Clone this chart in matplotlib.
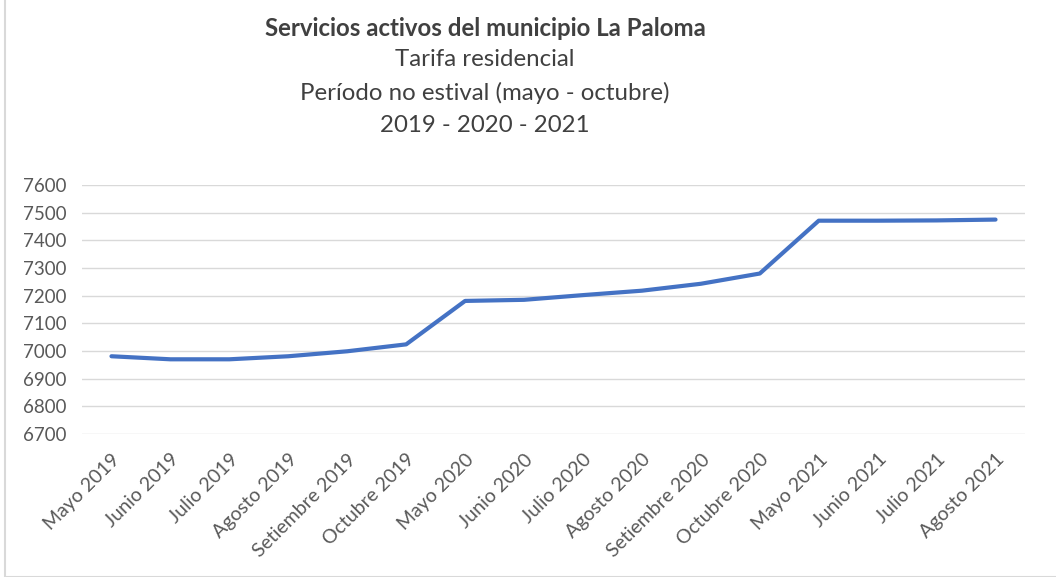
import matplotlib.pyplot as plt
from matplotlib.patches import Rectangle

meses = ["Mayo 2019", "Junio 2019", "Julio 2019", "Agosto 2019", "Setiembre 2019",
         "Octubre 2019", "Mayo 2020", "Junio 2020", "Julio 2020", "Agosto 2020",
         "Setiembre 2020", "Octubre 2020", "Mayo 2021", "Junio 2021", "Julio 2021",
         "Agosto 2021"]
servicios = [6981, 6970, 6970, 6981, 6999, 7024, 7181, 7185, 7202, 7218,
             7243, 7280, 7471, 7471, 7472, 7475]
y_ticks = [6700, 6800, 6900, 7000, 7100, 7200, 7300, 7400, 7500, 7600]

plt.rcParams['font.family'] = ['Lato', 'DejaVu Sans']

fig = plt.figure(figsize=(10.56, 5.77), dpi=100)
ax = fig.add_axes([82 / 1056, 1 - 434 / 577, (1025 - 82) / 1056, (434 - 185) / 577])

x = list(range(len(meses)))
ax.plot(x, servicios, color="#4472C4", linewidth=3, solid_capstyle="round")

ax.set_xlim(-0.5, len(meses) - 0.5)
ax.set_ylim(6700, 7600)
ax.set_yticks(y_ticks)
ax.set_xticks(x)
ax.set_xticklabels(meses, rotation=45, ha="right", rotation_mode="anchor")
ax.tick_params(axis="both", length=0, colors="#595959")
ax.tick_params(axis="x", pad=12, labelsize=14)
ax.tick_params(axis="y", pad=11, labelsize=13.5)
ax.grid(axis="y", color="#D9D9D9", linewidth=1)
ax.set_axisbelow(True)
for s in ax.spines.values():
    s.set_visible(False)

fig.text(485 / 1056, 1 - 28 / 577, "Servicios activos del municipio La Paloma",
         ha="center", va="center", fontsize=17.3, fontweight="bold", color="#404040")
sub = ["Tarifa residencial", "Período no estival (mayo - octubre)", "2019 - 2020 - 2021"]
for i, t in enumerate(sub):
    fig.text(485 / 1056, 1 - (60 + 33 * i) / 577, t, ha="center", va="center",
             fontsize=17.3, color="#404040")

fig.patches.append(Rectangle((5 / 1056, 0), 1, 1.1, transform=fig.transFigure,
                             fill=False, edgecolor="#D9D9D9", linewidth=1.5))

fig.savefig("out.png", dpi=100)
